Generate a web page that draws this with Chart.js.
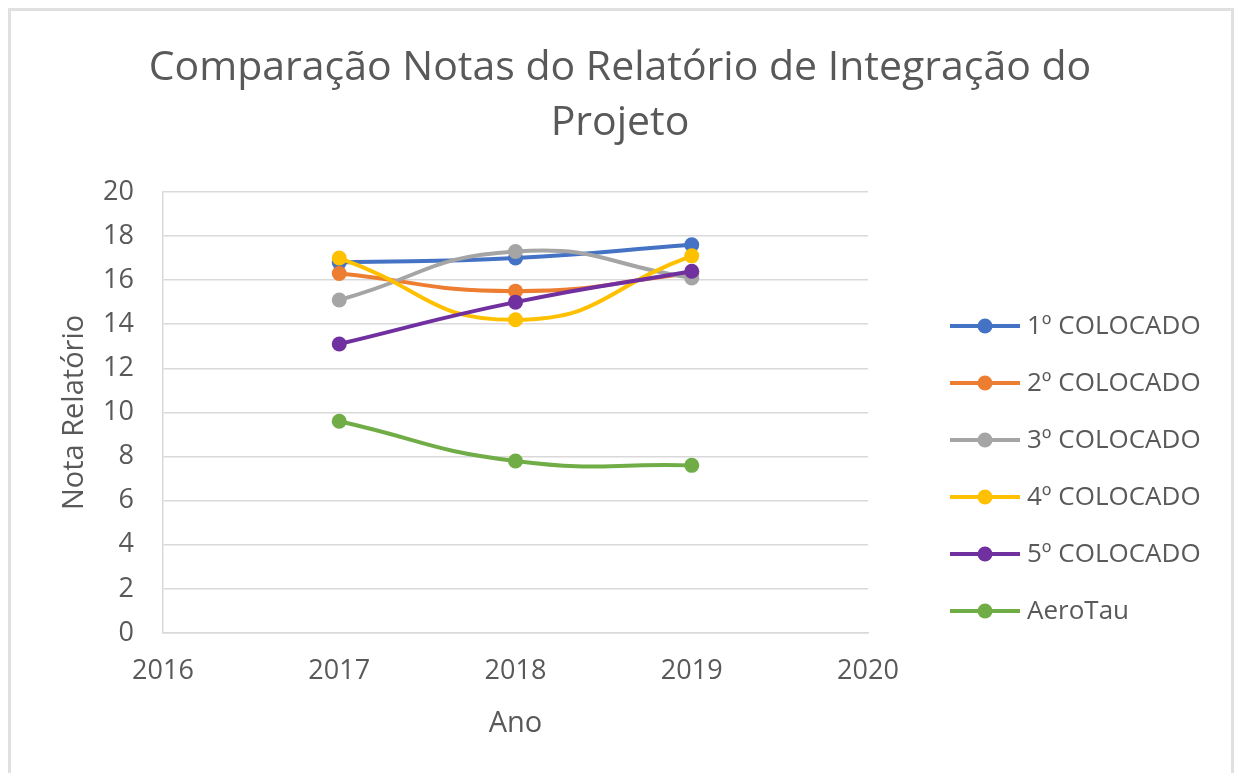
<!DOCTYPE html>
<html>
<head>
<meta charset="utf-8">
<script src="https://cdn.jsdelivr.net/npm/chart.js@4.4.1/dist/chart.umd.min.js"></script>
<style>
  html, body { margin: 0; padding: 0; background: #fff; overflow: hidden; }
  .moldura { position: absolute; left: 8px; top: 8px; width: 1226px; height: 800px; border: 3px solid #e0e0e0; box-sizing: border-box; }
  #grafico { position: absolute; left: 0; top: 0; }
</style>
</head>
<body>
<div class="moldura"></div>
<canvas id="grafico" width="1240" height="773"></canvas>
<script>
/* ---------- Dados ---------- */
const anos = [2017, 2018, 2019];
const series = ['1º COLOCADO', '2º COLOCADO', '3º COLOCADO', '4º COLOCADO', '5º COLOCADO', 'AeroTau'];
const primeiro = [16.8, 17.0, 17.6];
const segundo  = [16.3, 15.5, 16.3];
const terceiro = [15.1, 17.3, 16.1];
const quarto   = [17.0, 14.2, 17.1];
const quinto   = [13.1, 15.0, 16.4];
const aeroTau  = [9.6, 7.8, 7.6];
const cores = ['#4472C4', '#ED7D31', '#A5A5A5', '#FFC000', '#7030A0', '#70AD47'];

const valores = [primeiro, segundo, terceiro, quarto, quinto, aeroTau];
const FONTE = "'Open Sans'";
const CINZA = '#595959';

/* ---------- Legenda desenhada à direita ---------- */
const legendaDireita = {
  id: 'legendaDireita',
  afterDraw(chart) {
    const ctx = chart.ctx;
    ctx.save();
    chart.data.datasets.forEach((ds, i) => {
      const y = 326 + i * 57;
      ctx.strokeStyle = ds.borderColor;
      ctx.lineWidth = 4;
      ctx.beginPath(); ctx.moveTo(950, y); ctx.lineTo(1020, y); ctx.stroke();
      ctx.fillStyle = ds.borderColor;
      ctx.beginPath(); ctx.arc(985, y, 7.5, 0, Math.PI * 2); ctx.fill();
      ctx.fillStyle = CINZA;
      ctx.font = `26px ${FONTE}`;
      ctx.textAlign = 'left';
      ctx.textBaseline = 'middle';
      ctx.fillText(ds.label, 1027, y + 1);
    });
    ctx.restore();
  }
};

new Chart(document.getElementById('grafico'), {
  type: 'line',
  data: {
    datasets: series.map((nome, i) => ({
      label: nome,
      data: anos.map((ano, j) => ({ x: ano, y: valores[i][j] })),
      borderColor: cores[i],
      backgroundColor: cores[i],
      borderWidth: 4,
      pointRadius: 7.5,
      pointBorderWidth: 0,
      tension: 0.5,
      yAxisID: 'y',
      order: series.length - i
    }))
  },
  options: {
    responsive: false,
    animation: false,
    layout: { padding: 0 },
    plugins: {
      legend: { display: false },
      tooltip: { enabled: false },
      title: {
        display: true,
        text: ['Comparação Notas do Relatório de Integração do', 'Projeto'],
        color: CINZA,
        font: { family: FONTE, size: 41, weight: 'normal', lineHeight: 1.34 },
        padding: { top: 41, bottom: 41 }
      }
    },
    scales: {
      x: {
        type: 'linear', min: 2016, max: 2020,
        afterFit: (s) => { s.height = 140; },
        grid: { display: false, drawTicks: false },
        border: { display: true, color: '#d9d9d9', width: 1.5 },
        ticks: { stepSize: 1, padding: 22, color: CINZA, font: { family: FONTE, size: 27 }, callback: (v) => String(v) },
        title: { display: true, text: 'Ano', color: CINZA, font: { family: FONTE, size: 29 }, padding: { top: 0, bottom: 32 } }
      },
      y: {
        min: 0, max: 20,
        afterFit: (s) => { s.width = 163; },
        grid: { color: '#d9d9d9', lineWidth: 1.5, drawTicks: false },
        border: { display: true, color: '#d9d9d9', width: 1.5 },
        ticks: { stepSize: 2, padding: 29, color: CINZA, font: { family: FONTE, size: 27 } },
        title: { display: true, text: 'Nota Relatório', color: CINZA, font: { family: FONTE, size: 29 }, padding: { top: 57, bottom: 0 } }
      },
      espacoLegenda: {
        position: 'right',
        afterFit: (s) => { s.width = 372; },
        grid: { display: false, drawTicks: false },
        border: { display: false },
        ticks: { display: false }
      }
    }
  },
  plugins: [legendaDireita]
});
</script>
</body>
</html>
